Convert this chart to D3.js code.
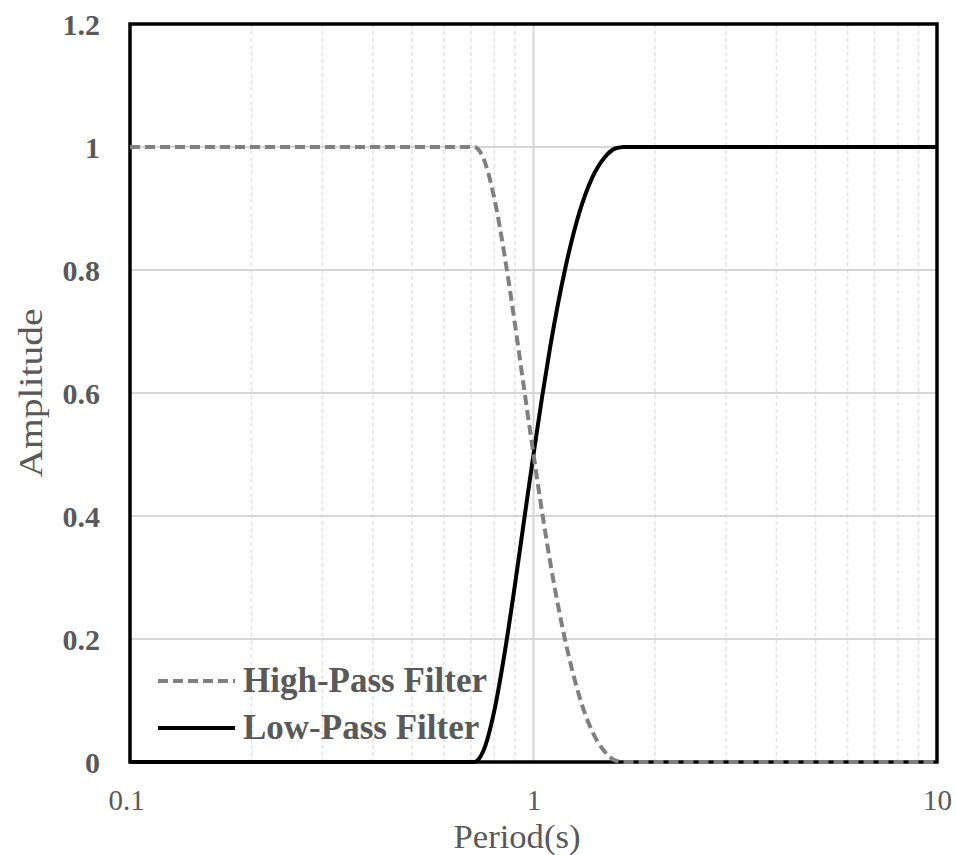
<!DOCTYPE html>
<html>
<head>
<meta charset="utf-8">
<script src="https://cdn.jsdelivr.net/npm/d3@7/dist/d3.min.js"></script>
<style>
  html, body { margin: 0; padding: 0; background: #fff; }
  svg { display: block; }
</style>
</head>
<body>
<svg id="chart" width="956" height="855"></svg>
<script>
// ---- data ----
const periods   = [0.1, 0.714, 0.73, 0.75, 0.8, 0.85, 0.9, 0.95, 1.0, 1.05, 1.1, 1.2, 1.3, 1.4, 1.5, 1.6, 1.63, 1.667, 10];
const lowPass   = [0, 0, 0.004, 0.017, 0.084, 0.181, 0.289, 0.398, 0.5, 0.593, 0.675, 0.804, 0.894, 0.951, 0.983, 0.998, 0.999, 1, 1];
const highPass  = [1, 1, 0.996, 0.983, 0.916, 0.819, 0.711, 0.602, 0.5, 0.407, 0.325, 0.196, 0.106, 0.049, 0.017, 0.002, 0.001, 0, 0];
const yTicks    = [0, 0.2, 0.4, 0.6, 0.8, 1, 1.2];
const yTickLabels = ["0", "0.2", "0.4", "0.6", "0.8", "1", "1.2"];
const xTicks    = [0.1, 1, 10];
const xTickLabels = ["0.1", "1", "10"];
const xMinor    = [0.2, 0.3, 0.4, 0.5, 0.6, 0.7, 0.8, 0.9, 2, 3, 4, 5, 6, 7, 8, 9];
const seriesNames = ["High-Pass Filter", "Low-Pass Filter"];

// ---- layout ----
const svg = d3.select("#chart");
const L = 130, R = 937, T = 24, B = 762;
const textColor = "#595959";
const font = "'Liberation Serif', 'Times New Roman', serif";

const x = d3.scaleLog().domain([0.1, 10]).range([L, R]);
const y = d3.scaleLinear().domain([0, 1.2]).range([B, T]);

// gridlines
const g = svg.append("g");
g.selectAll("line.minor").data(xMinor).join("line")
  .attr("x1", d => x(d)).attr("x2", d => x(d))
  .attr("y1", T).attr("y2", B)
  .attr("stroke", "#e2e2e2").attr("stroke-width", 1.5)
  .attr("stroke-dasharray", "4,3");
g.selectAll("line.major").data(xTicks).join("line")
  .attr("x1", d => x(d)).attr("x2", d => x(d))
  .attr("y1", T).attr("y2", B)
  .attr("stroke", "#d6d6d6").attr("stroke-width", 2);
g.selectAll("line.hgrid").data(yTicks).join("line")
  .attr("x1", L).attr("x2", R)
  .attr("y1", d => y(d)).attr("y2", d => y(d))
  .attr("stroke", "#d6d6d6").attr("stroke-width", 2);

// frame
svg.append("rect")
  .attr("x", L).attr("y", T).attr("width", R - L).attr("height", B - T)
  .attr("fill", "none").attr("stroke", "#000").attr("stroke-width", 3.5);

// axes (labels only)
const yAxis = d3.axisLeft(y).tickValues(yTicks).tickFormat((d, i) => yTickLabels[i]).tickSize(0).tickPadding(30);
const ya = svg.append("g").attr("transform", `translate(${L},0)`).call(yAxis);
ya.select(".domain").remove();
ya.selectAll("text")
  .attr("font-family", font).attr("font-size", 30).attr("font-weight", "bold")
  .attr("fill", textColor).attr("dy", "0.34em");

const xAxis = d3.axisBottom(x).tickValues(xTicks).tickFormat((d, i) => xTickLabels[i]).tickSize(0).tickPadding(0);
const xa = svg.append("g").attr("transform", `translate(0,${B})`).call(xAxis);
xa.select(".domain").remove();
xa.selectAll("text")
  .attr("font-family", font).attr("font-size", 29)
  .attr("fill", textColor).attr("dy", 0).attr("y", 48);
xa.selectAll(".tick").filter(d => d === 0.1).select("text").attr("x", -4);

// axis titles
svg.append("text")
  .attr("x", 517).attr("y", 848)
  .attr("text-anchor", "middle")
  .attr("font-family", font).attr("font-size", 33)
  .attr("textLength", 127).attr("lengthAdjust", "spacingAndGlyphs")
  .attr("fill", textColor).text("Period(s)");
svg.append("text")
  .attr("transform", "translate(42,393) rotate(-90)")
  .attr("text-anchor", "middle")
  .attr("font-family", font).attr("font-size", 33)
  .attr("textLength", 169).attr("lengthAdjust", "spacingAndGlyphs")
  .attr("fill", textColor).text("Amplitude");

// series
const line = d3.line().x(d => x(d[0])).y(d => y(d[1])).curve(d3.curveMonotoneX);
const hpData = periods.map((p, i) => [p, highPass[i]]);
const lpData = periods.map((p, i) => [p, lowPass[i]]);

svg.append("path").datum(lpData)
  .attr("d", line).attr("fill", "none")
  .attr("stroke", "#000").attr("stroke-width", 4);
svg.append("path").datum(hpData)
  .attr("d", line).attr("fill", "none")
  .attr("stroke", "#808080").attr("stroke-width", 4)
  .attr("stroke-dasharray", "10,5");

// legend
const legend = svg.append("g");
const legY = [681, 728];
legend.selectAll("line").data(seriesNames).join("line")
  .attr("x1", 158).attr("x2", 235)
  .attr("y1", (d, i) => legY[i]).attr("y2", (d, i) => legY[i])
  .attr("stroke", (d, i) => i === 0 ? "#808080" : "#000")
  .attr("stroke-width", 4)
  .attr("stroke-dasharray", (d, i) => i === 0 ? "10,5" : null);
legend.selectAll("text").data(seriesNames).join("text")
  .attr("x", 243).attr("y", (d, i) => legY[i] + 11)
  .attr("font-family", font).attr("font-size", 35).attr("font-weight", "bold")
  .attr("fill", textColor).text(d => d);
</script>
</body>
</html>
